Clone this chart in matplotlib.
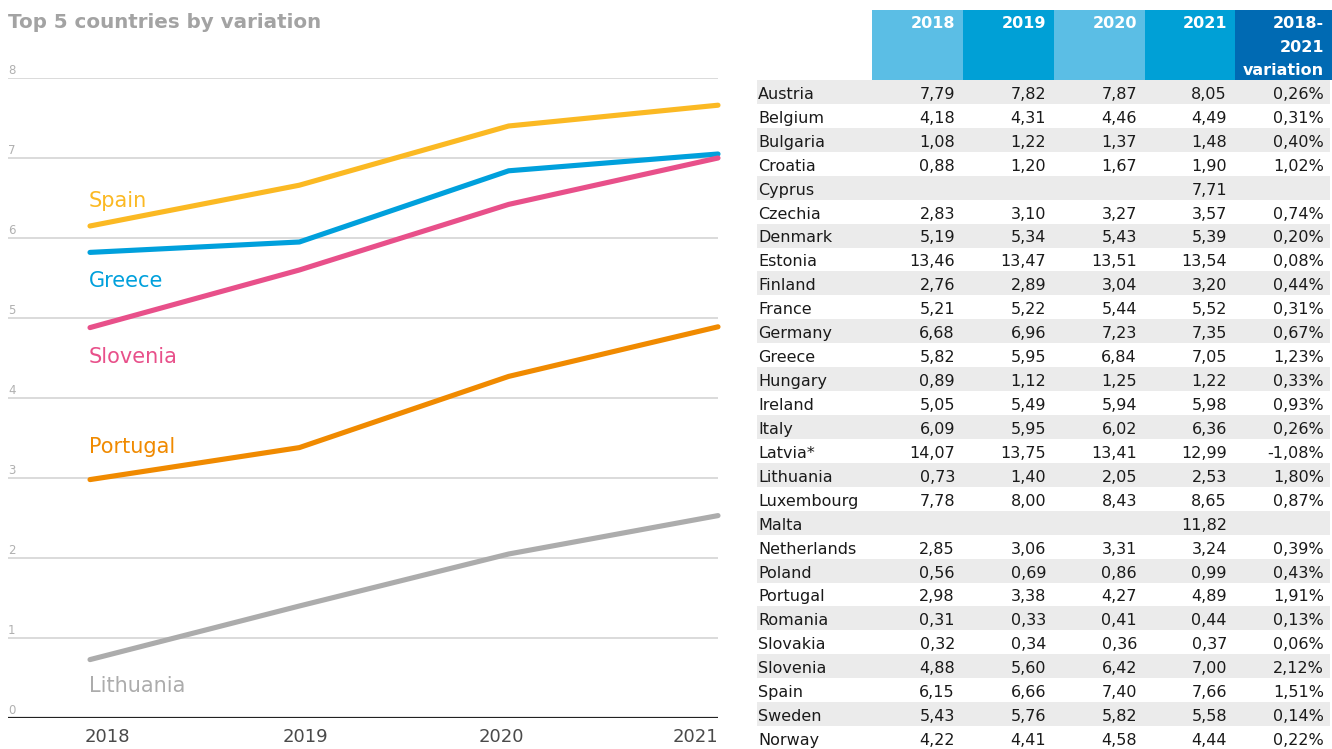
import matplotlib
matplotlib.use("Agg")
import matplotlib.pyplot as plt
import matplotlib.transforms as mtransforms

# ---------------- data ----------------
years = [2018, 2019, 2020, 2021]
y_ticks = [0, 1, 2, 3, 4, 5, 6, 7, 8]

countries = ["Austria", "Belgium", "Bulgaria", "Croatia", "Cyprus", "Czechia",
             "Denmark", "Estonia", "Finland", "France", "Germany", "Greece",
             "Hungary", "Ireland", "Italy", "Latvia*", "Lithuania", "Luxembourg",
             "Malta", "Netherlands", "Poland", "Portugal", "Romania", "Slovakia",
             "Slovenia", "Spain", "Sweden", "Norway"]
v2018 = [7.79, 4.18, 1.08, 0.88, None, 2.83, 5.19, 13.46, 2.76, 5.21, 6.68, 5.82,
         0.89, 5.05, 6.09, 14.07, 0.73, 7.78, None, 2.85, 0.56, 2.98, 0.31, 0.32,
         4.88, 6.15, 5.43, 4.22]
v2019 = [7.82, 4.31, 1.22, 1.20, None, 3.10, 5.34, 13.47, 2.89, 5.22, 6.96, 5.95,
         1.12, 5.49, 5.95, 13.75, 1.40, 8.00, None, 3.06, 0.69, 3.38, 0.33, 0.34,
         5.60, 6.66, 5.76, 4.41]
v2020 = [7.87, 4.46, 1.37, 1.67, None, 3.27, 5.43, 13.51, 3.04, 5.44, 7.23, 6.84,
         1.25, 5.94, 6.02, 13.41, 2.05, 8.43, None, 3.31, 0.86, 4.27, 0.41, 0.36,
         6.42, 7.40, 5.82, 4.58]
v2021 = [8.05, 4.49, 1.48, 1.90, 7.71, 3.57, 5.39, 13.54, 3.20, 5.52, 7.35, 7.05,
         1.22, 5.98, 6.36, 12.99, 2.53, 8.65, 11.82, 3.24, 0.99, 4.89, 0.44, 0.37,
         7.00, 7.66, 5.58, 4.44]
variation = [0.26, 0.31, 0.40, 1.02, None, 0.74, 0.20, 0.08, 0.44, 0.31, 0.67, 1.23,
             0.33, 0.93, 0.26, -1.08, 1.80, 0.87, None, 0.39, 0.43, 1.91, 0.13, 0.06,
             2.12, 1.51, 0.14, 0.22]

header_labels = ["2018", "2019", "2020", "2021", "2018-\n2021\nvariation"]

top5 = ["Spain", "Greece", "Slovenia", "Portugal", "Lithuania"]
top5_colors = ["#fbb923", "#00a0dc", "#e8508a", "#f08a00", "#acacac"]
# label baseline positions (layout, in axis units)
top5_label_y = [6.39, 5.39, 4.44, 3.31, 0.33]

# ---------------- figure ----------------
W, H = 1332, 749
fig = plt.figure(figsize=(W / 100, H / 100), dpi=100)
fig.patch.set_facecolor("white")
plt.rcParams["font.family"] = ["DejaVu Sans"]

def fx(px):
    return px / W

def fy(py):
    return 1 - py / H

# ---- line chart ----
ax_left, ax_right = 8, 718
y0_px, y8_px = 718, 78
ax = fig.add_axes([fx(ax_left), fy(y0_px), fx(ax_right - ax_left), (y0_px - y8_px) / H])
x_first_px = 90
units_per_px = (years[-1] - years[0]) / (ax_right - x_first_px)
ax.set_xlim(years[0] - (x_first_px - ax_left) * units_per_px, years[-1])
ax.set_ylim(y_ticks[0], y_ticks[-1])
for s in ax.spines.values():
    s.set_visible(False)
ax.set_yticks([])
ax.tick_params(axis="x", length=0, pad=7, labelsize=13, labelcolor="#4a4a4a")
ax.set_xticks(years)
ax.set_xticklabels([str(y) for y in years])
xl = ax.get_xticklabels()
xl[0].set_horizontalalignment("left")
xl[-1].set_horizontalalignment("right")
label_dx_px = [-5, 6, -7, 0]
for lab, dx in zip(xl, label_dx_px):
    lab.set_transform(lab.get_transform() +
                      mtransforms.ScaledTranslation(dx / 100, 0, fig.dpi_scale_trans))

trans = mtransforms.blended_transform_factory(ax.transAxes, ax.transData)
for t in y_ticks:
    ax.axhline(t, color="#222222" if t == 0 else "#d4d4d4",
               lw=1.6 if t == 0 else 1.2, zorder=1)
    ax.text(0.0, t + 0.012, str(t), transform=trans, ha="left", va="bottom",
            fontsize=8.5, color="#b0b0b0")

cols = [v2018, v2019, v2020, v2021]
for name, color, ly in zip(top5, top5_colors, top5_label_y):
    i = countries.index(name)
    vals = [c[i] for c in cols]
    ax.plot(years, vals, color=color, lw=3.7, solid_capstyle="round",
            solid_joinstyle="round", clip_on=False, zorder=3)
    ax.text(years[0] - 0.005, ly, name, color=color, fontsize=15,
            ha="left", va="baseline")

fig.text(fx(8), fy(28), "Top 5 countries by variation", fontsize=14.3,
         fontweight="bold", color="#a3a3a3", ha="left", va="baseline")

# ---- table ----
row_h = 23.93
tab_left, tab_right = 757, 1332
header_top, rows_top = 10, 80
n = len(countries)
tax = fig.add_axes([fx(tab_left), 0, fx(tab_right - tab_left), fy(header_top)])
tax.set_xlim(tab_left, tab_right)
top_units = -(rows_top - header_top) / row_h
bottom_units = top_units + (H - header_top) / row_h
tax.set_ylim(bottom_units, top_units)
tax.axis("off")

# zebra bands
band_rows = [i for i in range(n) if i % 2 == 0]
tax.barh([i + 0.5 for i in band_rows], [1330 - tab_left] * len(band_rows),
         left=tab_left, height=1.0, color="#ebebeb", zorder=0)

col_edges = [872, 963, 1054, 1145, 1235, 1332]
header_colors = ["#5bbee5", "#00a0d6", "#5bbee5", "#00a0d6", "#006ab3"]
text_right = [955, 1046, 1137, 1227, 1324]

for j, (lab, hc) in enumerate(zip(header_labels, header_colors)):
    tax.bar((col_edges[j] + col_edges[j + 1]) / 2, top_units, bottom=0,
            width=col_edges[j + 1] - col_edges[j], color=hc, zorder=1)
    for k, line in enumerate(lab.split("\n")):
        tax.text(text_right[j], top_units + (28 - header_top) / row_h + k * 0.99,
                 line, ha="right", va="baseline", fontsize=11.5,
                 fontweight="bold", color="white", zorder=2)

def fmt(v):
    return "" if v is None else f"{v:.2f}".replace(".", ",")

def fmt_pct(v):
    return "" if v is None else f"{v:.2f}".replace(".", ",") + "%"

for i, c in enumerate(countries):
    yb = i + 0.79
    tax.text(tab_left + 1, yb, c, ha="left", va="baseline", fontsize=11.5,
             color="#1a1a1a")
    for j, col in enumerate(cols):
        tax.text(text_right[j], yb, fmt(col[i]), ha="right", va="baseline",
                 fontsize=11.5, color="#1a1a1a")
    tax.text(text_right[4], yb, fmt_pct(variation[i]), ha="right", va="baseline",
             fontsize=11.5, color="#1a1a1a")

fig.savefig("out.png", dpi=100, facecolor="white")
